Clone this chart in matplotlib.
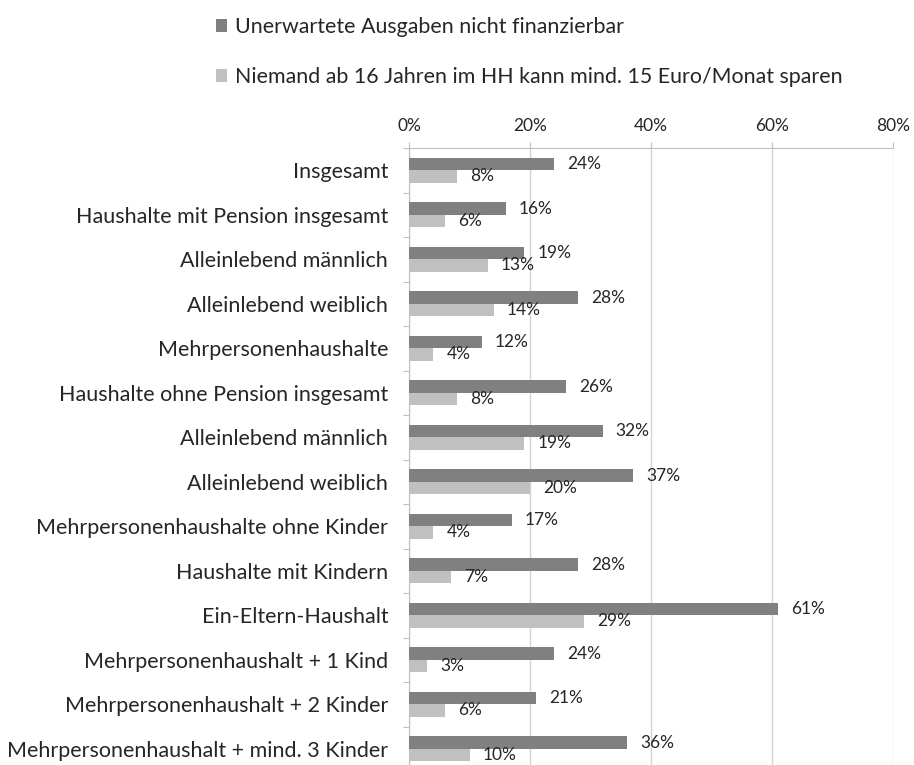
import numpy as np
import matplotlib
matplotlib.use("Agg")
import matplotlib.pyplot as plt

plt.rcParams['font.family'] = ['Lato', 'DejaVu Sans']

# Daten
kategorien = [
    "Insgesamt",
    "Haushalte mit Pension insgesamt",
    "Alleinlebend männlich",
    "Alleinlebend weiblich",
    "Mehrpersonenhaushalte",
    "Haushalte ohne Pension insgesamt",
    "Alleinlebend männlich",
    "Alleinlebend weiblich",
    "Mehrpersonenhaushalte ohne Kinder",
    "Haushalte mit Kindern",
    "Ein-Eltern-Haushalt",
    "Mehrpersonenhaushalt + 1 Kind",
    "Mehrpersonenhaushalt + 2 Kinder",
    "Mehrpersonenhaushalt + mind. 3 Kinder",
]
ausgaben = [24, 16, 19, 28, 12, 26, 32, 37, 17, 28, 61, 24, 21, 36]
sparen = [8, 6, 13, 14, 4, 8, 19, 20, 4, 7, 29, 3, 6, 10]
serien_namen = ["Unerwartete Ausgaben nicht finanzierbar",
                "Niemand ab 16 Jahren im HH kann mind. 15 Euro/Monat sparen"]
x_ticks = [0, 20, 40, 60, 80]

W, H = 914, 765
fig = plt.figure(figsize=(W / 100, H / 100), dpi=100)

# Plotbereich in Pixeln
left, right, top, bottom = 409, 893, 148, 771
ax = fig.add_axes([left / W, (H - bottom) / H, (right - left) / W, (bottom - top) / H])

n = len(kategorien)
y = np.arange(n)
h = 0.28
dunkel = "#808080"
hell = "#c0c0c0"
textfarbe = "#262626"

b1 = ax.barh(y - h / 2, ausgaben, height=h, color=dunkel, label=serien_namen[0], zorder=3)
b2 = ax.barh(y + h / 2, sparen, height=h, color=hell, label=serien_namen[1], zorder=3)

# Datenbeschriftungen rechts neben den Balken
for yi, v in zip(y, ausgaben):
    ax.annotate(f"{v}%", xy=(v, yi - h / 2), xytext=(9.5, 0), textcoords="offset points",
                ha="left", va="center", fontsize=12.5, color=textfarbe)
for yi, v in zip(y, sparen):
    ax.annotate(f"{v}%", xy=(v, yi + h / 2), xytext=(9.5, 0), textcoords="offset points",
                ha="left", va="center", fontsize=12.5, color=textfarbe)

ax.set_xlim(0, 80)
ax.set_ylim(n - 0.5, -0.5)
ax.xaxis.tick_top()
ax.set_xticks(x_ticks)
ax.set_xticklabels([f"{t}%" for t in x_ticks], fontsize=12.5, color=textfarbe)
ax.tick_params(axis="x", length=4, color="#bfbfbf", pad=6)
ax.grid(axis="x", color="#d4d4d4", linewidth=1, zorder=0)

# Kategorien: Ticks an den Grenzen, Beschriftung mittig
ax.set_yticks(np.arange(n + 1) - 0.5)
ax.set_yticklabels([])
ax.set_yticks(y, minor=True)
ax.set_yticklabels(kategorien, minor=True, fontsize=15.5, color=textfarbe)
ax.tick_params(axis="y", which="major", length=4, color="#bfbfbf")
ax.tick_params(axis="y", which="minor", length=0, pad=15)

for s in ["right", "bottom"]:
    ax.spines[s].set_visible(False)
ax.spines["top"].set_color("#bfbfbf")
ax.spines["left"].set_color("#bfbfbf")

fig.legend(handles=[b1, b2], loc="upper left", bbox_to_anchor=(216 / W, 1 - 17 / H),
           frameon=False, fontsize=15.4, labelspacing=1.4, handlelength=0.52,
           handleheight=0.52, handletextpad=0.37, borderpad=0, borderaxespad=0,
           labelcolor=textfarbe)

fig.savefig("out.png", dpi=100)
